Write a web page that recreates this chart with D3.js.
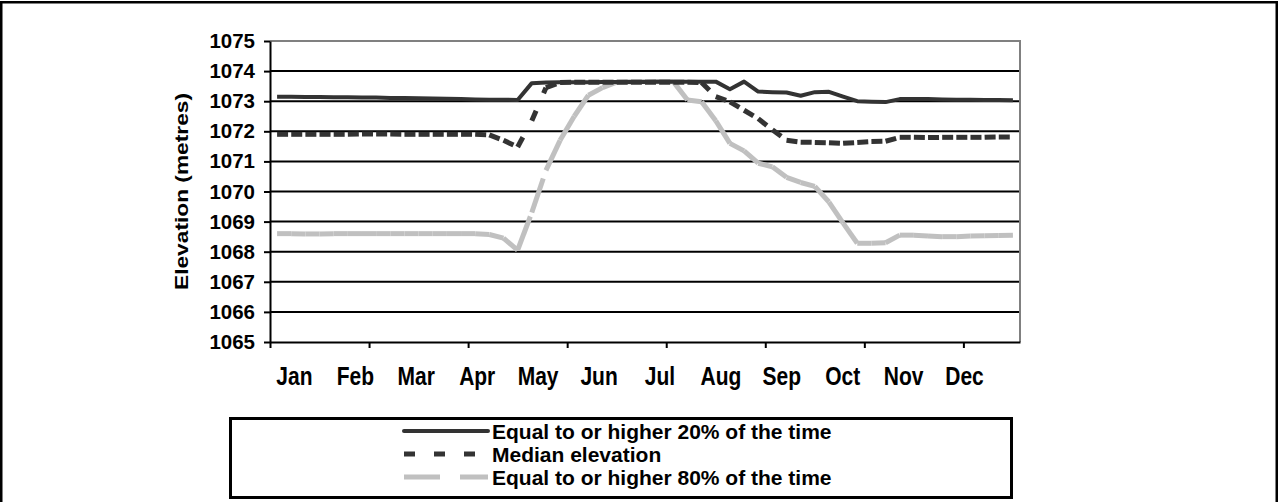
<!DOCTYPE html>
<html lang="en">
<head>
<meta charset="UTF-8">
<title>Reservoir elevation</title>
<script src="https://d3js.org/d3.v7.min.js"></script>
<style>
  body { margin: 0; background: #fff; }
  text { font-family: "Liberation Sans", Arial, sans-serif; font-weight: bold; fill: #000; }
</style>
</head>
<body>
<div id="chart"></div>
<script>
// weekly values (53 weeks)
const months = ["Jan", "Feb", "Mar", "Apr", "May", "Jun", "Jul", "Aug", "Sep", "Oct", "Nov", "Dec"];
const yTicks = [1065, 1066, 1067, 1068, 1069, 1070, 1071, 1072, 1073, 1074, 1075];
const xTickWeeks = [0, 7, 14, 21, 28, 35, 42, 49];

const high20 = [1073.15, 1073.15, 1073.14, 1073.14, 1073.13, 1073.13, 1073.12, 1073.12, 1073.11, 1073.11,
  1073.1, 1073.09, 1073.08, 1073.07, 1073.06, 1073.05, 1073.05, 1073.04, 1073.6, 1073.62,
  1073.63, 1073.63, 1073.63, 1073.64, 1073.64, 1073.64, 1073.64, 1073.65, 1073.65, 1073.65,
  1073.65, 1073.65, 1073.4, 1073.65, 1073.32, 1073.3, 1073.29, 1073.18, 1073.3, 1073.31,
  1073.15, 1073.0, 1072.98, 1072.97, 1073.07, 1073.07, 1073.07, 1073.06, 1073.05, 1073.05,
  1073.04, 1073.04, 1073.03];

const median = [1071.9, 1071.9, 1071.9, 1071.9, 1071.9, 1071.9, 1071.91, 1071.91, 1071.91, 1071.9,
  1071.9, 1071.9, 1071.9, 1071.9, 1071.9, 1071.88, 1071.7, 1071.48, 1072.35, 1073.45,
  1073.62, 1073.63, 1073.63, 1073.63, 1073.63, 1073.63, 1073.63, 1073.63, 1073.63, 1073.63,
  1073.62, 1073.15, 1072.98, 1072.7, 1072.42, 1072.05, 1071.7, 1071.64, 1071.63, 1071.62,
  1071.6, 1071.63, 1071.66, 1071.67, 1071.8, 1071.8, 1071.79, 1071.8, 1071.8, 1071.8,
  1071.8, 1071.81, 1071.81];

const high80 = [1068.6, 1068.6, 1068.59, 1068.59, 1068.6, 1068.6, 1068.6, 1068.6, 1068.6, 1068.6,
  1068.6, 1068.6, 1068.6, 1068.6, 1068.6, 1068.57, 1068.45, 1068.05, 1069.3, 1070.7,
  1071.7, 1072.5, 1073.2, 1073.45, 1073.63, 1073.65, 1073.65, 1073.65, 1073.65, 1073.04,
  1072.98, 1072.35, 1071.6, 1071.35, 1070.94, 1070.82, 1070.47, 1070.3, 1070.17, 1069.65,
  1068.95, 1068.28, 1068.28, 1068.3, 1068.55, 1068.55, 1068.52, 1068.5, 1068.5, 1068.52,
  1068.53, 1068.54, 1068.55];

const seriesNames = ["Equal to or higher 20% of the time", "Median elevation", "Equal to or higher 80% of the time"];

const W = 1279, H = 502;
const plot = { left: 270, right: 1020, top: 41, bottom: 342 };

const svg = d3.select("#chart").append("svg")
  .attr("width", W)
  .attr("height", H);

// outer frame
svg.append("rect")
  .attr("x", 1.25).attr("y", 2.25)
  .attr("width", W - 3.5).attr("height", H + 10)
  .attr("fill", "none").attr("stroke", "#000").attr("stroke-width", 2.5);

const x = d3.scaleLinear().domain([0, 53]).range([plot.left, plot.right]);
const y = d3.scaleLinear().domain([1065, 1075]).range([plot.bottom, plot.top]);
const monthScale = d3.scaleBand().domain(months).range([264, 995]);

// gridlines
svg.append("g")
  .selectAll("line")
  .data(yTicks.slice(1, -1))
  .join("line")
  .attr("x1", plot.left).attr("x2", plot.right)
  .attr("y1", d => y(d)).attr("y2", d => y(d))
  .attr("stroke", "#000").attr("stroke-width", 2);

// grey plot border (top and right)
svg.append("path")
  .attr("d", `M${plot.left},${y(1075)}H${plot.right}V${plot.bottom}`)
  .attr("fill", "none").attr("stroke", "#808080").attr("stroke-width", 2);

// y axis
const yAxis = svg.append("g")
  .attr("transform", `translate(${plot.left},0)`)
  .call(d3.axisLeft(y).tickValues(yTicks).tickFormat(d3.format("d")).tickSize(6).tickSizeOuter(0).tickPadding(9));
yAxis.select(".domain").attr("stroke", "#000").attr("stroke-width", 2);
yAxis.selectAll(".tick line").attr("stroke", "#000").attr("stroke-width", 2);
yAxis.selectAll(".tick text")
  .attr("font-size", 20.5).attr("font-family", "Liberation Sans, Arial, sans-serif")
  .attr("font-weight", "bold").attr("fill", "#000");

// x axis
const xAxis = svg.append("g")
  .attr("transform", `translate(0,${plot.bottom})`)
  .call(d3.axisBottom(x).tickValues(xTickWeeks).tickFormat("").tickSize(6).tickSizeOuter(0));
xAxis.select(".domain").attr("stroke", "#000").attr("stroke-width", 2);
xAxis.selectAll(".tick line").attr("stroke", "#000").attr("stroke-width", 2);

// month labels
svg.append("g")
  .selectAll("text")
  .data(months)
  .join("text")
  .attr("transform", d => `translate(${monthScale(d) + monthScale.bandwidth() / 2},385) scale(1,1.2)`)
  .attr("text-anchor", "middle")
  .attr("font-size", 21)
  .text(d => d);

// y title
svg.append("text")
  .attr("transform", `translate(188,${(y(1075) + y(1065)) / 2}) rotate(-90)`)
  .attr("text-anchor", "middle")
  .attr("font-size", 18)
  .attr("textLength", 197)
  .attr("lengthAdjust", "spacingAndGlyphs")
  .text("Elevation (metres)");

// series: dashes restart on each segment, like the original
const styles = [
  { values: high20, color: "#333333", width: 4, dash: null },
  { values: median, color: "#333333", width: 5, dash: "11,19" },
  { values: high80, color: "#c0c0c0", width: 5, dash: "36,20" }
];

const weeks = d3.range(53).map(i => i + 0.5);

styles.slice().reverse().forEach(s => {
  const pts = weeks.map((w, i) => [x(w), y(s.values[i])]);
  if (!s.dash) {
    svg.append("path")
      .attr("d", d3.line()(pts))
      .attr("fill", "none")
      .attr("stroke", s.color)
      .attr("stroke-width", s.width)
      .attr("stroke-linejoin", "round");
  } else {
    svg.append("g")
      .selectAll("line")
      .data(d3.pairs(pts))
      .join("line")
      .attr("x1", d => d[0][0]).attr("y1", d => d[0][1])
      .attr("x2", d => d[1][0]).attr("y2", d => d[1][1])
      .attr("stroke", s.color)
      .attr("stroke-width", s.width)
      .attr("stroke-dasharray", s.dash);
  }
});

// legend
const legend = svg.append("g");
legend.append("rect")
  .attr("x", 230.5).attr("y", 418.5)
  .attr("width", 781).attr("height", 79)
  .attr("fill", "#fff").attr("stroke", "#000").attr("stroke-width", 3);

const rowY = [431, 454, 477];
styles.forEach((s, i) => {
  legend.append("line")
    .attr("x1", 404).attr("x2", 488)
    .attr("y1", rowY[i]).attr("y2", rowY[i])
    .attr("stroke", s.color)
    .attr("stroke-width", s.width)
    .attr("stroke-linecap", s.dash ? "butt" : "round")
    .attr("stroke-dasharray", s.dash);
  legend.append("text")
    .attr("x", 492).attr("y", rowY[i] + 7.5)
    .attr("font-size", 21)
    .text(seriesNames[i]);
});
</script>
</body>
</html>
